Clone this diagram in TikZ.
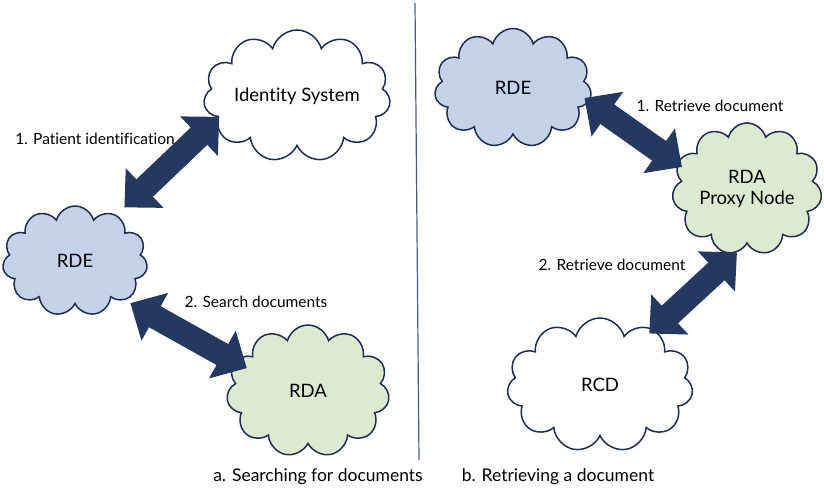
\documentclass[tikz,border=0pt]{standalone}
\usepackage{fontspec}
\setmainfont{Lato}[Ligatures=NoCommon]
\usetikzlibrary{shapes.symbols,arrows.meta}
\definecolor{cloudline}{RGB}{31,45,80}
\definecolor{rdeblue}{RGB}{196,210,234}
\definecolor{rdagreen}{RGB}{221,234,208}
\definecolor{linkblue}{RGB}{37,56,96}
\definecolor{rulegray}{RGB}{74,92,130}

\tikzset{
	bubble/.style={cloud, cloud puffs=11, cloud ignores aspect, draw=cloudline,
		line width=1.5pt, fill=white, inner sep=0pt, align=center,
		font=\fontsize{18.5}{21}\selectfont},
	bluebubble/.style={bubble, fill=rdeblue},
	greenbubble/.style={bubble, fill=rdagreen},
	link/.style={draw=linkblue, line width=24pt,
		{Triangle[length=28pt,width=53pt]}-{Triangle[length=28pt,width=53pt]}},
	steplabel/.style={font=\fontsize{15.5}{18}\selectfont},
	caption/.style={font=\fontsize{17.5}{20}\selectfont}
}

\begin{document}
\begin{tikzpicture}[x=1pt,y=-1pt]
		\useasboundingbox (0,0) rectangle (824,490);
		% a. searching
		\node[bubble, minimum width=187pt, minimum height=132pt] (ids) at (297,96) {Identity System};
		\node[bluebubble, minimum width=145pt, minimum height=110pt] (rdeA) at (75,261) {RDE};
		\node[greenbubble, minimum width=163pt, minimum height=132pt] (rdaA) at (308,391) {RDA};
		\draw[link, shorten <=11pt, shorten >=-3pt] (rdeA.48) -- (ids.196);
		\draw[link, shorten <=6pt, shorten >=-14pt] (rdeA.-38) -- (rdaA.158);
		\node[steplabel] (lblA1) at (95,139) {1. Patient identification};
		\node[steplabel] (lblA2) at (256,302) {2. Search documents};
		% divider
		\draw[rulegray, line width=1.2pt] (415,3) -- (419,460);
		% b. retrieving
		\node[bluebubble, minimum width=157pt, minimum height=119pt] (rdeB) at (513,88) {RDE};
		\node[greenbubble, minimum width=150pt, minimum height=132pt] (rdaB) at (747,189) {RDA\\Proxy Node};
		\node[bubble, minimum width=186pt, minimum height=134pt] (rcd) at (600,385) {RCD};
		\draw[link, shorten <=-6pt, shorten >=-6pt] (rdeB.-10) -- (rdaB.160);
		\draw[link, shorten >=-6pt] (rdaB.261) -- (rcd.46);
		\node[steplabel] (lblB1) at (710,106) {1. Retrieve document};
		\node[steplabel] (lblB2) at (612,265) {2. Retrieve document};
		% captions
		\node[caption] (capA) at (318,477) {a. Searching for documents};
		\node[caption] (capB) at (558,477) {b. Retrieving a document};
	\end{tikzpicture}
\end{document}
